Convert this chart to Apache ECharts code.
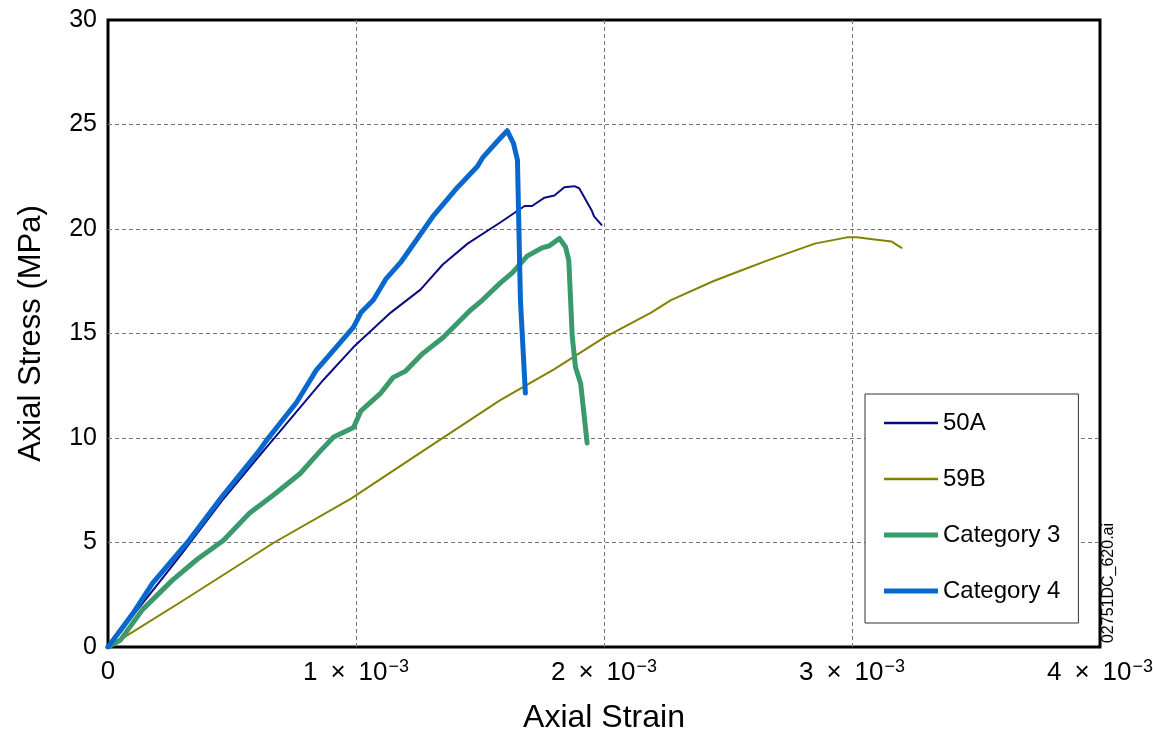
<!DOCTYPE html>
<html>
<head>
<meta charset="utf-8">
<script src="https://cdn.jsdelivr.net/npm/echarts@6/dist/echarts.min.js"></script>
<style>
	html, body { margin: 0; padding: 0; background: #fff; }
	#main { width: 1153px; height: 738px; }
</style>
</head>
<body>
<div id="main"></div>
<script>
// [axial strain, axial stress MPa]
var s50A = [
	[0, 0], [0.00005, 0.7], [0.0001, 1.5], [0.0002, 3.0], [0.0003, 4.5],
	[0.00046, 7.0], [0.0006, 9.0], [0.000735, 10.9], [0.00087, 12.8],
	[0.00099, 14.35], [0.00114, 16.0], [0.00126, 17.1], [0.00135, 18.3],
	[0.00145, 19.3], [0.00158, 20.3], [0.00168, 21.1], [0.00171, 21.1],
	[0.00176, 21.5], [0.0018, 21.6], [0.00184, 22.0], [0.00188, 22.05],
	[0.0019, 21.95], [0.00195, 20.9], [0.00196, 20.6], [0.00199, 20.2]
];
var s59B = [
	[0, 0], [0.00005, 0.35], [0.0003, 2.2], [0.00067, 5.0], [0.00098, 7.1],
	[0.00126, 9.3], [0.00158, 11.8], [0.0018, 13.3], [0.002, 14.8],
	[0.00219, 16.0], [0.00227, 16.6], [0.00244, 17.5], [0.00255, 18.0],
	[0.00266, 18.5], [0.00285, 19.3], [0.00298, 19.6], [0.00302, 19.6],
	[0.00309, 19.5], [0.00316, 19.4], [0.0032, 19.1]
];
var sCat3 = [
	[0, 0], [0.00005, 0.33], [0.00014, 1.8], [0.00026, 3.2], [0.00036, 4.2],
	[0.000465, 5.1], [0.00057, 6.4], [0.00067, 7.3], [0.000775, 8.3],
	[0.00085, 9.3], [0.00091, 10.05], [0.00099, 10.5], [0.00102, 11.3],
	[0.0011, 12.15], [0.00115, 12.9], [0.0012, 13.2], [0.00127, 14.05],
	[0.00135, 14.8], [0.00146, 16.1], [0.00151, 16.6], [0.00158, 17.4],
	[0.00163, 17.9], [0.00169, 18.7], [0.00175, 19.1], [0.00178, 19.2],
	[0.00182, 19.55], [0.001845, 19.14], [0.001858, 18.5], [0.001872, 14.85],
	[0.001885, 13.4], [0.001906, 12.6], [0.001932, 9.76]
];
var sCat4 = [
	[0, 0], [0.00005, 0.8], [0.0001, 1.6], [0.00018, 3.06], [0.00032, 5.0],
	[0.00046, 7.2], [0.00061, 9.4], [0.00064, 9.9], [0.00076, 11.7],
	[0.00084, 13.25], [0.00091, 14.2], [0.00099, 15.3], [0.00102, 16.0],
	[0.00107, 16.6], [0.00112, 17.6], [0.00118, 18.4], [0.00131, 20.6],
	[0.00141, 22.0], [0.00149, 23.0], [0.00151, 23.4], [0.00157, 24.2],
	[0.00161, 24.7], [0.001635, 24.1], [0.001651, 23.3], [0.001663, 16.6],
	[0.001683, 12.15]
];
var seriesNames = ['50A', '59B', 'Category 3', 'Category 4'];
var seriesColors = ['#0b0b85', '#828200', '#3a9a6b', '#0a68cc'];
var seriesWidths = [2, 2, 5, 5];
var seriesData = [s50A, s59B, sCat3, sCat4];

var xTickFactors = [0, 1, 2, 3, 4];
var yTicks = [0, 5, 10, 15, 20, 25, 30];

var font = '"Liberation Sans", Arial, sans-serif';
var chart = echarts.init(document.getElementById('main'));

var series = [];
var legendData = [];
for (var i = 0; i < seriesData.length; i++) {
	series.push({
		name: seriesNames[i],
		type: 'line',
		data: seriesData[i],
		symbol: 'none',
		showSymbol: false,
		smooth: false,
		animation: false,
		lineStyle: { color: seriesColors[i], width: seriesWidths[i], cap: 'round', join: 'round' },
		itemStyle: { color: seriesColors[i] }
	});
	// plain line icon, as thick as the series line
	var h = seriesWidths[i] === 2 ? 2.5 : 5;
	legendData.push({
		name: seriesNames[i],
		icon: 'path://M0,0L54,0L54,' + h + 'L0,' + h + 'Z'
	});
}

var gridLine = {
	show: true, showMinLine: false, showMaxLine: false,
	lineStyle: { color: '#777', type: [4, 3], width: 1 }
};

var option = {
	backgroundColor: '#fff',
	textStyle: { fontFamily: font },
	grid: {
		left: 108, top: 20, right: 53, bottom: 91,
		outerBoundsMode: 'none',
		show: true, borderColor: '#000', borderWidth: 3, backgroundColor: 'transparent'
	},
	legend: {
		orient: 'vertical',
		left: 865, top: 394,
		padding: [17, 18, 20, 19],
		itemGap: 32,
		itemWidth: 54,
		itemHeight: 14,
		symbolKeepAspect: true,
		backgroundColor: '#fff',
		borderColor: '#333',
		borderWidth: 1,
		textStyle: { fontFamily: font, fontSize: 24, color: '#000', lineHeight: 24 },
		data: legendData
	},
	xAxis: {
		type: 'value',
		min: 0, max: 0.004, interval: 0.001,
		name: 'Axial Strain',
		nameLocation: 'middle',
		nameGap: 55,
		nameTextStyle: { fontSize: 32, color: '#000', fontFamily: font },
		axisLine: { show: false },
		axisTick: { show: false },
		splitLine: gridLine,
		axisLabel: {
			margin: 11,
			color: '#000',
			fontSize: 26,
			formatter: function (v) {
				var n = Math.round(v * 1000);
				if (xTickFactors.indexOf(n) < 0) return '';
				if (n === 0) return '{a|0}';
				return '{a|' + n + '\u2002×\u200210}{b|−3}';
			},
			rich: {
				a: { fontSize: 26, color: '#000', fontFamily: font, lineHeight: 28 },
				b: { fontSize: 18, color: '#000', fontFamily: font, padding: [0, 0, 12, 1] }
			}
		}
	},
	yAxis: {
		type: 'value',
		min: 0, max: 30, interval: 5,
		name: 'Axial Stress (MPa)',
		nameLocation: 'middle',
		nameGap: 61,
		nameTextStyle: { fontSize: 31, color: '#000', fontFamily: font },
		axisLine: { show: false },
		axisTick: { show: false },
		splitLine: gridLine,
		axisLabel: {
			margin: 11, color: '#000', fontSize: 25,
			formatter: function (v) { return yTicks.indexOf(v) >= 0 ? String(v) : ''; }
		}
	},
	graphic: [{
		type: 'text',
		x: 1109, y: 583,
		rotation: Math.PI / 2,
		style: {
			text: '02751DC_620.ai',
			fill: '#000',
			font: '16px ' + font,
			align: 'center',
			verticalAlign: 'middle'
		}
	}],
	series: series
};

chart.setOption(option);
</script>
</body>
</html>
